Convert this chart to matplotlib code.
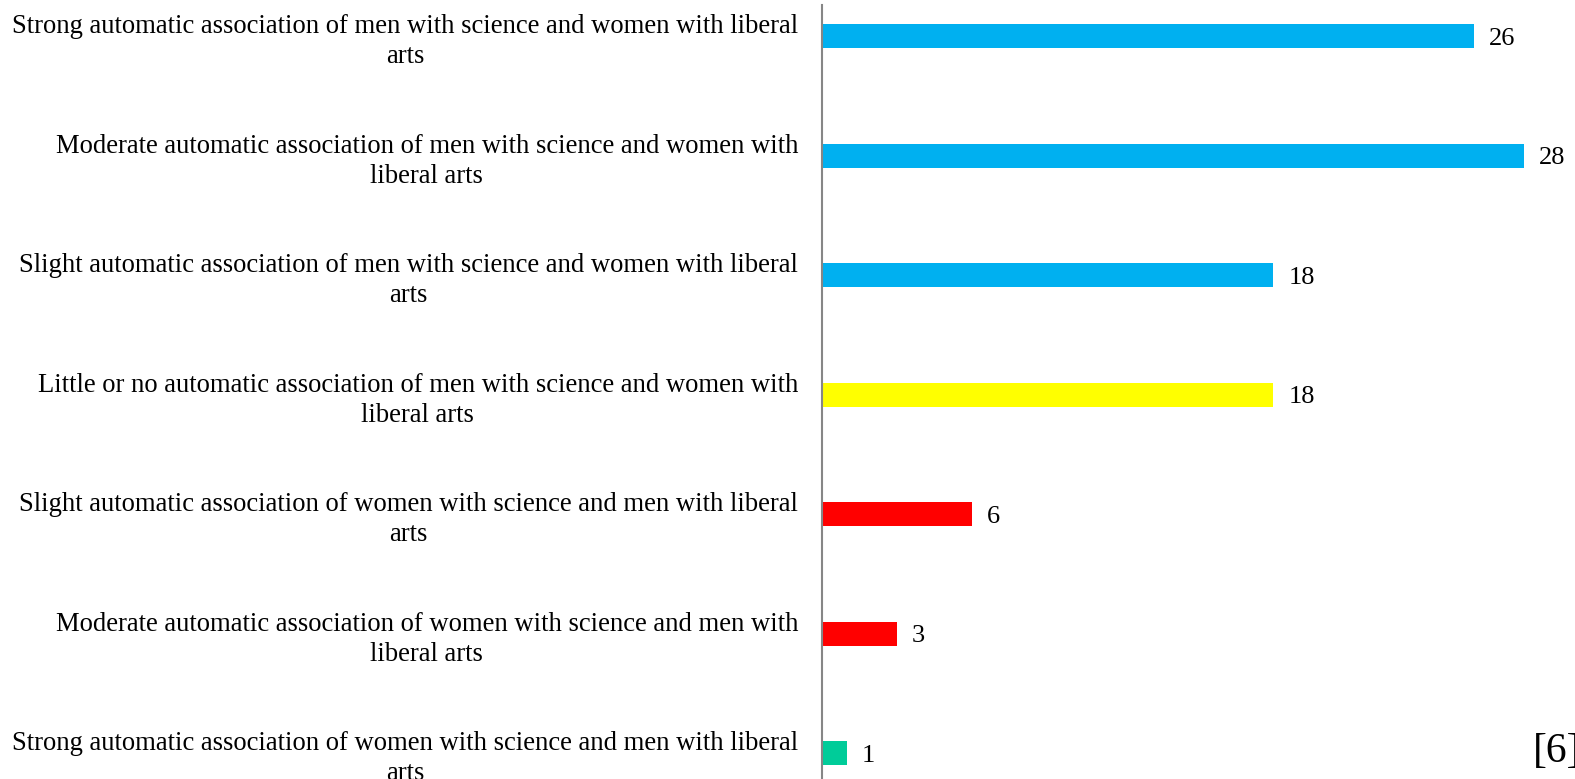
import matplotlib
matplotlib.use("Agg")
import matplotlib.pyplot as plt

categories = [
    "Strong automatic association of men with science and women with liberal\narts",
    "Moderate automatic association of men with science and women with\nliberal arts",
    "Slight automatic association of men with science and women with liberal\narts",
    "Little or no automatic association of men with science and women with\nliberal arts",
    "Slight automatic association of women with science and men with liberal\narts",
    "Moderate automatic association of women with science and men with\nliberal arts",
    "Strong automatic association of women with science and men with liberal\narts",
]
values = [26, 28, 18, 18, 6, 3, 1]
colors = ["#00B0F0", "#00B0F0", "#00B0F0", "#FFFF00", "#FF0000", "#FF0000", "#00CC99"]

plt.rcParams["font.family"] = ["Liberation Serif", "DejaVu Serif"]

W, H = 1575, 779
fig = plt.figure(figsize=(W / 100, H / 100), dpi=100)
left = 821.7 / W
ax = fig.add_axes([left, 0, 1 - left, 774 / H])

pos = list(range(len(values)))
ax.barh(pos, values, height=0.2, color=colors)
ax.set_xlim(0, 30.03)
ax.set_ylim(6.216, -0.261)

for p, v in zip(pos, values):
    ax.text(v + 0.6, p + 0.02, str(v), va="center", ha="left", fontsize=19)

ax.set_yticks(pos)
ax.set_yticklabels(categories, fontsize=19.2, multialignment="center",
                   linespacing=1.27)
ax.tick_params(axis="y", length=0, pad=17)
ax.set_xticks([])
for s in ["top", "right", "bottom"]:
    ax.spines[s].set_visible(False)
ax.spines["left"].set_color("#868686")
ax.spines["left"].set_linewidth(1.5)

fig.text(1533 / W, 1 - 752 / H, "[6]", fontsize=30, ha="left", va="center")

fig.savefig("out.png", dpi=100)
